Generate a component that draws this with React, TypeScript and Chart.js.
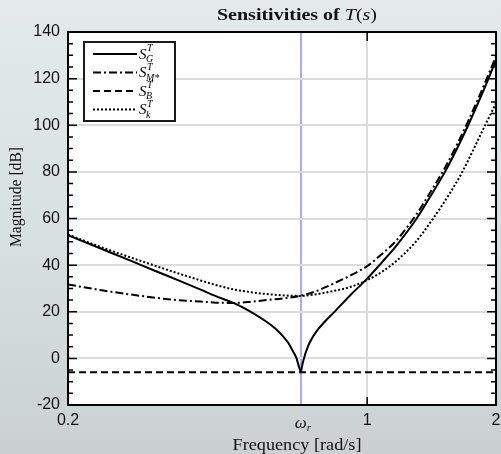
import React, { useEffect, useRef } from 'react';
import { Chart, registerables } from 'chart.js';

Chart.register(...registerables);

// ---- data ----
const omegaR = 0.7;
const xTicks = [0.2, omegaR, 1, 2];
const xTickLabels = ['0.2', '', '1', '2'];
const yTicks = [-20, 0, 20, 40, 60, 80, 100, 120, 140];
const yTickLabels = ['-20', '0', '20', '40', '60', '80', '100', '120', '140'];

const freqSG = [0.2, 0.24, 0.28, 0.32, 0.36, 0.407, 0.443, 0.487, 0.53, 0.582, 0.61, 0.637, 0.655, 0.672, 0.684, 0.691, 0.7, 0.708, 0.716, 0.724, 0.735, 0.762, 0.797, 0.834, 0.912, 1.0, 1.08, 1.172, 1.305, 1.4, 1.52, 1.62, 1.723, 1.82, 1.909, 2.0];
const magSG = [52.8, 46.9, 41.9, 37.5, 33.7, 29.6, 26.7, 23.8, 20.4, 15.7, 12.8, 9.3, 6.5, 2.8, 0.0, -2.9, -6.0, -1.6, 1.6, 4.2, 7.0, 11.7, 15.8, 19.5, 27.0, 34.2, 41.0, 48.5, 60, 69, 80, 89.8, 100.1, 109.9, 118.8, 128];

const freqSM = [0.2, 0.24, 0.28, 0.32, 0.36, 0.407, 0.443, 0.487, 0.53, 0.582, 0.64, 0.7, 0.76, 0.819, 0.912, 1.0, 1.08, 1.172, 1.305, 1.4, 1.52, 1.62, 1.723, 1.82, 1.909, 2.0];
const magSM = [31.7, 29.2, 27.4, 26.0, 25.0, 24.4, 23.9, 23.8, 24.2, 25.0, 25.8, 26.9, 28.8, 31.4, 35.5, 39.6, 44.6, 50.7, 61.9, 70.8, 81.8, 91.6, 101.9, 111.7, 120.6, 129.6];

const freqSB = [0.2, 2.0];
const magSB = [-6.0, -6.0];

const freqSk = [0.2, 0.24, 0.28, 0.32, 0.36, 0.407, 0.443, 0.487, 0.53, 0.582, 0.64, 0.7, 0.76, 0.819, 0.912, 1.0, 1.08, 1.172, 1.3, 1.42, 1.55, 1.663, 1.76, 1.852, 2.0];
const magSk = [53.1, 47.6, 43.3, 39.7, 36.6, 33.5, 31.5, 29.6, 28.5, 27.6, 27.0, 26.8, 27.5, 28.6, 30.6, 33.6, 37.0, 41.9, 50.1, 59.5, 70, 79.5, 88.5, 97, 109.5];

const legendSubs = ['G', 'M*', 'B', 'k'];

const toPts = (xs: number[], ys: number[]) => xs.map((x, i) => ({ x, y: ys[i] }));

const SERIF = '"Liberation Serif", "DejaVu Serif", serif';
const SANS = '"Liberation Sans", Arial, sans-serif';

const styles = [
  { dash: [] as number[], width: 2 },
  { dash: [8, 3, 2, 3], width: 2 },
  { dash: [7, 4], width: 2 },
  { dash: [2, 2], width: 2 },
];

const notchIdx = freqSG.indexOf(omegaR);

function fitText(ctx: CanvasRenderingContext2D, parts: { t: string; f: string }[], cx: number, y: number, target: number) {
  let total = 0;
  parts.forEach((p) => { ctx.font = p.f; total += ctx.measureText(p.t).width; });
  const k = target / total;
  ctx.save();
  ctx.translate(cx - target / 2, y);
  ctx.scale(k, 1);
  ctx.textAlign = 'left';
  let x = 0;
  parts.forEach((p) => {
    ctx.font = p.f;
    ctx.fillText(p.t, x, 0);
    x += ctx.measureText(p.t).width;
  });
  ctx.restore();
}

const decorPlugin = {
  id: 'decor',
  beforeDraw(chart: any) {
    const { ctx, width, height, chartArea } = chart;
    ctx.save();
    const g = ctx.createLinearGradient(0, 0, 0, height);
    g.addColorStop(0, '#e4eaea');
    g.addColorStop(0.45, '#d9e2e2');
    g.addColorStop(1, '#cbd1d2');
    ctx.fillStyle = g;
    ctx.fillRect(0, 0, width, height);
    ctx.fillStyle = '#ffffff';
    ctx.fillRect(chartArea.left, chartArea.top, chartArea.right - chartArea.left, chartArea.bottom - chartArea.top);
    ctx.restore();
  },
  afterDatasetsDraw(chart: any) {
    const { ctx, chartArea } = chart;
    const { left, right, top, bottom } = chartArea;
    const xs = chart.scales.x;
    const ys = chart.scales.y;
    ctx.save();
    // ticks
    ctx.strokeStyle = '#000';
    ctx.lineWidth = 1.5;
    ctx.setLineDash([]);
    ctx.beginPath();
    for (let v = -20; v <= 140; v += 5) {
      const y = ys.getPixelForValue(v);
      const len = v % 20 === 0 ? 9 : 5;
      ctx.moveTo(left, y);
      ctx.lineTo(left + len, y);
      ctx.moveTo(right, y);
      ctx.lineTo(right - len, y);
    }
    const x1 = xs.getPixelForValue(1);
    ctx.moveTo(x1, bottom);
    ctx.lineTo(x1, bottom - 8);
    ctx.moveTo(x1, top);
    ctx.lineTo(x1, top + 9);
    ctx.stroke();
    // frame
    ctx.lineWidth = 2;
    ctx.strokeRect(left, top, right - left, bottom - top);

    // legend box
    const bx = 84, by = 42, bw = 91, bh = 79;
    ctx.fillStyle = '#fff';
    ctx.fillRect(bx, by, bw, bh);
    ctx.lineWidth = 2;
    ctx.strokeStyle = '#1a1a1a';
    ctx.strokeRect(bx, by, bw, bh);
    const rows = [54, 72.5, 91, 109.5];
    rows.forEach((ry, i) => {
      ctx.strokeStyle = '#000';
      ctx.lineWidth = styles[i].width;
      ctx.setLineDash(styles[i].dash);
      ctx.beginPath();
      ctx.moveTo(93, ry);
      ctx.lineTo(137, ry);
      ctx.stroke();
      ctx.setLineDash([]);
      ctx.fillStyle = '#000';
      ctx.textBaseline = 'alphabetic';
      ctx.textAlign = 'left';
      ctx.font = `italic 15px ${SERIF}`;
      ctx.fillText('S', 139, ry + 4.5);
      const sw = ctx.measureText('S').width;
      ctx.font = `italic 10px ${SERIF}`;
      ctx.fillText('T', 139 + sw + 0.5, ry - 3);
      ctx.fillText(legendSubs[i], 139 + sw - 0.5, ry + 8);
    });

    // omega_r label
    const xr = xs.getPixelForValue(omegaR);
    ctx.fillStyle = '#111';
    ctx.font = `italic 17px ${SERIF}`;
    const ww = ctx.measureText('ω').width;
    ctx.font = `italic 11px ${SERIF}`;
    const rw = ctx.measureText('r').width;
    const sx = xr + 2 - (ww + rw) / 2;
    ctx.font = `italic 17px ${SERIF}`;
    ctx.fillText('ω', sx, 428);
    ctx.font = `italic 11px ${SERIF}`;
    ctx.fillText('r', sx + ww, 431);

    // x title
    ctx.fillStyle = '#111';
    fitText(ctx, [{ t: 'Frequency [rad/s]', f: `17px ${SERIF}` }], 297, 450, 129);

    // y title
    ctx.save();
    ctx.translate(21, 197);
    ctx.rotate(-Math.PI / 2);
    fitText(ctx, [{ t: 'Magnitude [dB]', f: `16px ${SERIF}` }], 0, 0, 100);
    ctx.restore();

    // main title (mixed fonts)
    fitText(ctx, [
      { t: 'Sensitivities of ', f: `bold 17px ${SERIF}` },
      { t: 'T', f: `italic 17px ${SERIF}` },
      { t: '(', f: `17px ${SERIF}` },
      { t: 's', f: `italic 17px ${SERIF}` },
      { t: ')', f: `17px ${SERIF}` },
    ], 297, 20, 160);
    ctx.restore();
  },
};

export default function App() {
  const ref = useRef<HTMLCanvasElement>(null);
  useEffect(() => {
    if (!ref.current) return;
    const lineDs = (label: string, xsArr: number[], ysArr: number[], st: { dash: number[]; width: number }, mono = true) => ({
      label,
      data: toPts(xsArr, ysArr),
      borderColor: '#000',
      borderWidth: st.width,
      borderDash: st.dash,
      pointRadius: 0,
      fill: false,
      cubicInterpolationMode: mono ? 'monotone' : 'default',
      tension: mono ? 0.4 : 0,
    });
    const chart = new Chart(ref.current, {
      type: 'line',
      data: {
        datasets: [
          lineDs('S_G^T', freqSG.slice(0, notchIdx + 1), magSG.slice(0, notchIdx + 1), styles[0]),
          lineDs('S_G^T ', freqSG.slice(notchIdx), magSG.slice(notchIdx), styles[0]),
          lineDs('S_M*^T', freqSM, magSM, styles[1]),
          lineDs('S_B^T', freqSB, magSB, styles[2], false),
          lineDs('S_k^T', freqSk, magSk, styles[3]),
        ] as any,
      },
      options: {
        animation: false,
        responsive: false,
        maintainAspectRatio: false,
        layout: { padding: { left: 8, right: 5, top: 32, bottom: 0 } },
        plugins: {
          legend: { display: false },
          title: { display: false },
          tooltip: { enabled: false },
        },
        scales: {
          x: {
            type: 'logarithmic',
            min: 0.2,
            max: 2,
            afterBuildTicks: (s: any) => { s.ticks = xTicks.map((v) => ({ value: v })); },
            afterFit: (s: any) => { s.height = 49; s.paddingLeft = 0; s.paddingRight = 0; },
            ticks: {
              autoSkip: false,
              maxRotation: 0,
              minRotation: 0,
              padding: 6,
              color: '#111',
              font: { family: SANS, size: 16 },
              callback: (_v: any, i: number) => xTickLabels[i],
            },
            grid: {
              drawTicks: false,
              lineWidth: 2,
              color: (c: any) => {
                const v = c.tick ? c.tick.value : null;
                if (v === omegaR) return 'rgb(168,168,255)';
                if (v === 1) return '#dcdcdc';
                return 'rgba(0,0,0,0)';
              },
            },
            border: { display: false },
          },
          y: {
            type: 'linear',
            min: -20,
            max: 140,
            afterBuildTicks: (s: any) => { s.ticks = yTicks.map((v) => ({ value: v })); },
            afterFit: (s: any) => { s.width = 60; s.paddingTop = 0; s.paddingBottom = 0; },
            ticks: {
              padding: 8,
              color: '#111',
              font: { family: SANS, size: 16 },
              callback: (_v: any, i: number) => yTickLabels[i],
            },
            grid: {
              drawTicks: false,
              lineWidth: 2,
              color: '#dcdcdc',
            },
            border: { display: false },
          },
        },
      } as any,
      plugins: [decorPlugin],
    });
    return () => chart.destroy();
  }, []);
  return (
    <div style={{ position: 'absolute', left: 0, top: 0, width: 501, height: 454 }}>
      <canvas ref={ref} width={501} height={454} style={{ display: 'block', width: 501, height: 454 }} />
    </div>
  );
}
